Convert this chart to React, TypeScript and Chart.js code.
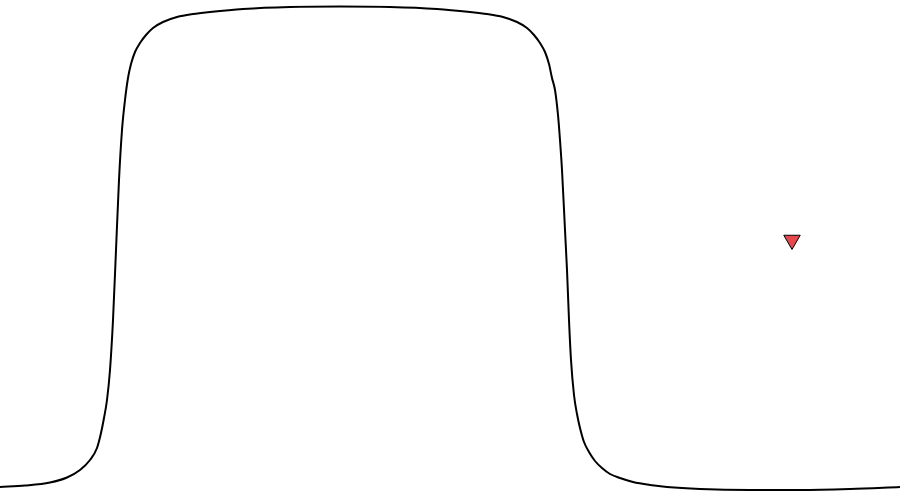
import React, { useEffect, useRef } from 'react';
import Chart from 'chart.js/auto';

// curve samples (x, height above the bottom edge)
const curveX = [
  0, 25, 50, 67, 80, 90, 97, 101, 104, 107, 110, 113, 116, 119, 122, 125, 128, 131, 135, 140, 146,
  153, 163, 177, 193, 210, 243, 290, 340, 390, 437, 470, 487, 503, 517, 527, 534, 540, 545, 549,
  552, 555, 558, 560, 562, 565, 567, 569, 571, 574, 577, 580, 584, 589, 595, 602, 610, 620, 633,
  650, 667, 700, 750, 800, 850, 900,
];
const curveY = [
  11, 12.5, 15.5, 20.5, 28, 38, 50, 65, 80, 98, 128, 178, 248, 318, 368, 398, 420, 434, 446, 455,
  463, 470, 476, 481, 484, 486, 489, 491, 491.5, 491, 489, 486, 484, 481, 476, 470, 463, 455, 446,
  434, 420, 408, 383, 358, 328, 268, 228, 178, 138, 103, 84, 70, 56, 46, 37, 30, 24, 20, 16, 13,
  11, 9, 8, 8, 9, 11,
];

// single marker
const markerX = [792];
const markerY = [258];

export default function App() {
  const canvasRef = useRef<HTMLCanvasElement>(null);

  useEffect(() => {
    document.body.style.margin = '0';
    if (!canvasRef.current) return;
    const chart = new Chart(canvasRef.current, {
      type: 'line',
      data: {
        datasets: [
          {
            data: curveX.map((x, i) => ({ x, y: curveY[i] })),
            borderColor: '#000000',
            borderWidth: 2,
            pointRadius: 0,
            cubicInterpolationMode: 'monotone',
            fill: false,
          },
          {
            data: markerX.map((x, i) => ({ x, y: markerY[i] })),
            showLine: false,
            pointStyle: 'triangle',
            rotation: 180,
            pointRadius: 9.5,
            backgroundColor: '#e5484d',
            borderColor: '#000000',
            borderWidth: 1,
          },
        ],
      },
      options: {
        responsive: false,
        animation: false,
        layout: { padding: 0, autoPadding: false },
        plugins: { legend: { display: false }, tooltip: { enabled: false } },
        scales: {
          x: { type: 'linear', min: 0, max: 900, display: false },
          y: { type: 'linear', min: 0, max: 498, display: false },
        },
      },
    });
    return () => chart.destroy();
  }, []);

  return (
    <div style={{ width: 900, height: 498 }}>
      <canvas ref={canvasRef} width={900} height={498}></canvas>
    </div>
  );
}
